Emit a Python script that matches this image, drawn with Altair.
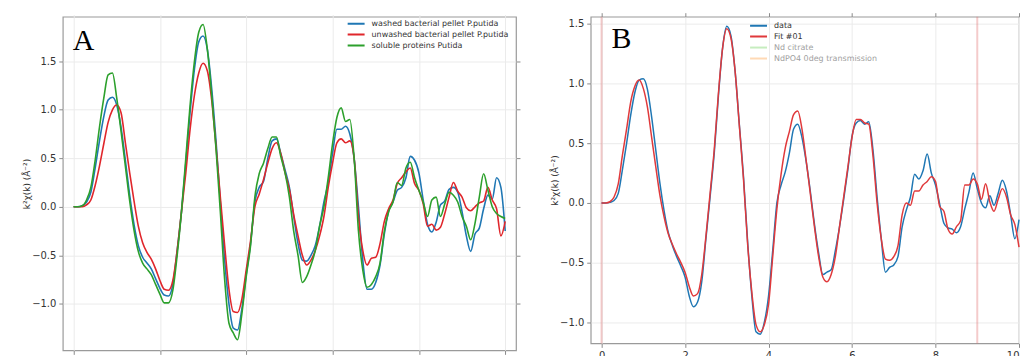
import altair as alt
import pandas as pd

# ---------------- data ----------------
k = [round(i * 0.1, 1) for i in range(101)]

a_names = ["washed bacterial pellet P.putida",
           "unwashed bacterial pellet P.putida",
           "soluble proteins Putida"]
a_colors = ["#1f77b4", "#e0262b", "#2ca02c"]

a_washed = [0, 0, 0.01, 0.05, 0.15, 0.4, 0.68, 0.93, 1.1, 1.13,
            1.05, 0.82, 0.48, 0.12, -0.18, -0.4, -0.52, -0.58, -0.64, -0.74,
            -0.84, -0.91, -0.92, -0.8, -0.45, -0.05, 0.45, 0.98, 1.42, 1.7,
            1.76, 1.62, 1.22, 0.68, 0.05, -0.55, -1.0, -1.25, -1.27, -1.05,
            -0.7, -0.38, 0.05, 0.2, 0.26, 0.5, 0.68, 0.7, 0.55, 0.38,
            0.2, -0.1, -0.38, -0.55, -0.56, -0.5, -0.4, -0.2, 0.05, 0.25,
            0.55, 0.8, 0.8, 0.83, 0.75, 0.5, 0.0, -0.55, -0.85, -0.85,
            -0.78, -0.6, -0.28, -0.04, 0.05, 0.17, 0.2, 0.3, 0.52, 0.48,
            0.35, 0.07, -0.18, -0.26, -0.16, 0.02, 0.06, 0.18, 0.2, 0.15,
            -0.05, -0.3, -0.46, -0.28, -0.22, -0.02, 0.12, 0.08, 0.3, 0.2,
            -0.25]
a_unwashed = [0, 0, 0, 0.02, 0.07, 0.22, 0.42, 0.65, 0.87, 1.0,
              1.05, 0.97, 0.66, 0.35, 0.06, -0.2, -0.37, -0.47, -0.54, -0.64,
              -0.76, -0.85, -0.86, -0.76, -0.45, -0.05, 0.35, 0.8, 1.15, 1.38,
              1.48, 1.4, 1.1, 0.62, 0.1, -0.4, -0.85, -1.08, -1.09, -0.95,
              -0.65, -0.35, 0.0, 0.13, 0.28, 0.45, 0.6, 0.66, 0.55, 0.35,
              0.18, -0.08, -0.3, -0.5, -0.6, -0.55, -0.45, -0.3, -0.1, 0.2,
              0.45, 0.66, 0.7, 0.66, 0.68, 0.5, -0.1, -0.45, -0.6, -0.53,
              -0.52, -0.38, -0.15, -0.02, 0.07, 0.24, 0.3, 0.36, 0.4, 0.24,
              0.17, 0.03, -0.2, -0.18, -0.24, -0.21, -0.07, 0.1, 0.25, 0.16,
              0.1, -0.01, -0.04, 0.0, 0.04, 0.06, 0.2, 0.07, -0.02, -0.3,
              -0.15]
a_soluble = [0, 0, 0.01, 0.07, 0.2, 0.48, 0.82, 1.12, 1.36, 1.38,
             1.12, 0.78, 0.42, 0.06, -0.24, -0.46, -0.58, -0.64, -0.7, -0.8,
             -0.9, -0.99, -0.99, -0.86, -0.5, -0.05, 0.5, 1.05, 1.5, 1.8,
             1.88, 1.62, 1.15, 0.6, -0.05, -0.75, -1.2, -1.3, -1.37, -1.1,
             -0.72, -0.4, 0.1, 0.34, 0.45, 0.6, 0.72, 0.72, 0.52, 0.35,
             0.1, -0.25, -0.5, -0.78, -0.72, -0.6, -0.45, -0.2, 0.0, 0.3,
             0.65, 0.92, 1.02, 0.88, 0.9, 0.5, -0.25, -0.65, -0.83, -0.8,
             -0.72, -0.58, -0.25, -0.05, 0.05, 0.25, 0.22, 0.4, 0.46, 0.3,
             0.17, 0.05, -0.1, 0.07, 0.1, -0.1, 0.03, 0.15, 0.12, 0.05,
             -0.1, -0.2, -0.34, -0.17, 0.1, 0.34, 0.17, 0.0, -0.07, -0.1,
             -0.12]

b_names = ["data", "Fit #01", "Nd citrate", "NdPO4 0deg transmission"]
b_colors = ["#1f77b4", "#e0393b", "#98df8a", "#ffbb78"]

b_data = [0, 0, 0.005, 0.02, 0.08, 0.28, 0.5, 0.74, 0.93, 1.03,
          1.04, 0.95, 0.72, 0.44, 0.16, -0.07, -0.25, -0.36, -0.45, -0.53,
          -0.62, -0.78, -0.87, -0.83, -0.66, -0.3, 0.05, 0.42, 0.9, 1.3,
          1.48, 1.4, 1.1, 0.66, 0.22, -0.33, -0.78, -1.08, -1.1, -1.0,
          -0.78, -0.4, 0.0, 0.15, 0.26, 0.42, 0.62, 0.66, 0.55, 0.35,
          0.1, -0.18, -0.42, -0.6, -0.58, -0.56, -0.4, -0.2, 0.03, 0.28,
          0.56, 0.67, 0.69, 0.66, 0.68, 0.45, 0.05, -0.3, -0.58, -0.54,
          -0.52, -0.45, -0.2, -0.06, 0.05, 0.24, 0.2, 0.27, 0.41, 0.25,
          0.15, -0.01, -0.17, -0.21, -0.22, -0.25, -0.2, -0.05, 0.09, 0.25,
          0.12, 0.0, -0.04, 0.06, -0.02, 0.08, 0.19, 0.1, -0.1, -0.3,
          -0.14]
b_fit = [0, 0, 0.01, 0.05, 0.16, 0.4, 0.62, 0.85, 0.98, 1.03,
         0.96, 0.8, 0.55, 0.3, 0.06, -0.12, -0.26, -0.35, -0.43, -0.5,
         -0.58, -0.7, -0.78, -0.76, -0.6, -0.28, 0.08, 0.45, 0.92, 1.3,
         1.46, 1.38, 1.1, 0.65, 0.2, -0.35, -0.75, -1.02, -1.08, -1.02,
         -0.85, -0.45, -0.05, 0.24, 0.46, 0.6, 0.74, 0.77, 0.62, 0.36,
         0.08, -0.2, -0.45, -0.62, -0.66, -0.6, -0.45, -0.2, 0.05, 0.3,
         0.55, 0.7, 0.7, 0.67, 0.66, 0.4, 0.0, -0.3, -0.47, -0.48,
         -0.45, -0.36, -0.1, 0.0, -0.02, 0.1, 0.1, 0.15, 0.18, 0.22,
         0.18, -0.03, -0.07, -0.22, -0.26, -0.2, -0.15, 0.15, 0.15, 0.2,
         0.16, 0.03, 0.16, 0.01, -0.07, 0.03, 0.12, 0.05, -0.1, -0.18,
         -0.37]
b_window = [0, 9]

x_ticks = [0, 2, 4, 6, 8, 10]
y_ticks = [-1.0, -0.5, 0.0, 0.5, 1.0, 1.5]
y_title = "k²χ(k) (Å⁻²)"

# ---------------- tables ----------------
dfA = pd.concat([pd.DataFrame({"k": k, "v": vals, "series": name})
                 for name, vals in zip(a_names, [a_washed, a_unwashed, a_soluble])])
dfB = pd.concat([pd.DataFrame({"k": k, "v": vals, "series": name})
                 for name, vals in zip(b_names[:2], [b_data, b_fit])])
dfW = pd.DataFrame({"k": b_window})

FONT = "DejaVu Sans"
GRID = "#ebebeb"
TICK = "#8a8a8a"

x_axis_bottom = alt.Axis(values=x_ticks, orient="bottom", format="d", title=None,
                         grid=True, gridColor=GRID, tickSize=4, tickColor=TICK,
                         domain=False, labelFontSize=10, labelFont=FONT,
                         labelColor="#333", labelPadding=3, labelFlush=True,
                         labelFlushOffset=0)
y_axis_left = alt.Axis(values=y_ticks, orient="left", format=".1f", title=y_title,
                       grid=True, gridColor=GRID, tickSize=4, tickColor=TICK,
                       domain=False, labelFontSize=10, labelFont=FONT,
                       labelColor="#333", labelPadding=3, titleFontSize=9,
                       titleFont=FONT, titleFontWeight="normal", titleColor="#333",
                       titlePadding=0)
y_axis_right = alt.Axis(values=y_ticks, orient="right", title=None, labels=False,
                        grid=False, tickSize=4, tickColor=TICK, domain=False)
x_axis_top = alt.Axis(values=x_ticks, orient="top", title=None, labels=False,
                      grid=False, tickSize=4, tickColor=TICK, domain=False)
x_axis_top_hidden = alt.Axis(values=x_ticks, orient="top", title=None, labels=False,
                             grid=False, tickSize=2, tickColor="#e8e8e8",
                             domain=False)

# ---------------- panel A ----------------
xA = alt.Scale(domain=[-0.25, 10.25], nice=False, zero=False)
yA = alt.Scale(domain=[-1.48, 1.96], nice=False, zero=False)

a_legend = alt.Legend(title=None, orient="none", legendX=285, legendY=1.5,
                      symbolType="stroke", symbolSize=289, symbolStrokeWidth=2,
                      clipHeight=11, rowPadding=0,
                      labelFontSize=8, labelFont=FONT, labelColor="#333",
                      labelOffset=6, padding=0)

linesA = alt.Chart(dfA).mark_line(strokeWidth=1.6, interpolate="monotone").encode(
    x=alt.X("k:Q", scale=xA, axis=x_axis_bottom),
    y=alt.Y("v:Q", scale=yA, axis=y_axis_left),
    color=alt.Color("series:N", scale=alt.Scale(domain=a_names, range=a_colors),
                    legend=a_legend, sort=a_names),
)
rightA = alt.Chart(dfA).mark_line(opacity=0).encode(
    x=alt.X("k:Q", scale=xA, axis=x_axis_top_hidden),
    y=alt.Y("v:Q", scale=yA, axis=y_axis_right),
)
labelA = alt.Chart(pd.DataFrame({"t": ["A"]})).mark_text(
    font="Liberation Serif", fontSize=30, align="left", baseline="alphabetic",
    color="black").encode(text="t:N", x=alt.value(10), y=alt.value(33))

panelA = alt.layer(linesA, rightA, labelA).resolve_axis(
    x="independent", y="independent").properties(width=455, height=335)

# ---------------- panel B ----------------
xB = alt.Scale(domain=[-0.26, 10.0], nice=False, zero=False)
yB = alt.Scale(domain=[-1.177, 1.561], nice=False, zero=False)

keep = "datum.label == 'data' || datum.label == 'Fit #01'"
b_legend = alt.Legend(title=None, orient="none", legendX=159, legendY=3.5,
                      symbolType="stroke", symbolSize=289, symbolStrokeWidth=2,
                      clipHeight=11, rowPadding=0,
                      labelFontSize=8, labelFont=FONT,
                      labelColor={"expr": f"({keep}) ? '#333' : '#a0a0a0'"},
                      symbolOpacity={"expr": f"({keep}) ? 1 : 0.55"},
                      labelOffset=6, padding=0)

linesB = alt.Chart(dfB).mark_line(strokeWidth=1.5, interpolate="monotone").encode(
    x=alt.X("k:Q", scale=xB, axis=x_axis_bottom),
    y=alt.Y("v:Q", scale=yB, axis=y_axis_left),
    color=alt.Color("series:N", scale=alt.Scale(domain=b_names, range=b_colors),
                    legend=b_legend, sort=b_names),
)
windowB = alt.Chart(dfW).mark_rule(color="#e06a6a", opacity=0.35, strokeWidth=2).encode(
    x=alt.X("k:Q", scale=xB, axis=x_axis_bottom))
topB = alt.Chart(dfB).mark_line(opacity=0).encode(
    x=alt.X("k:Q", scale=xB, axis=x_axis_top),
    y=alt.Y("v:Q", scale=yB, axis=y_axis_left),
)
labelB = alt.Chart(pd.DataFrame({"t": ["B"]})).mark_text(
    font="Liberation Serif", fontSize=30, align="left", baseline="alphabetic",
    color="black").encode(text="t:N", x=alt.value(21), y=alt.value(31))

panelB = alt.layer(alt.layer(windowB, linesB), topB, labelB).resolve_axis(
    x="independent").properties(width=430, height=328)

chart = alt.hconcat(panelA, panelB, spacing=28).resolve_scale(
    color="independent", x="independent", y="independent"
).properties(
    padding={"left": 14, "top": 2, "right": 0, "bottom": 0},
    background="white",
).configure_view(stroke="#9a9a9a", strokeWidth=1.2)

chart.save("out.html", embed_options={"renderer": "svg", "actions": False})
